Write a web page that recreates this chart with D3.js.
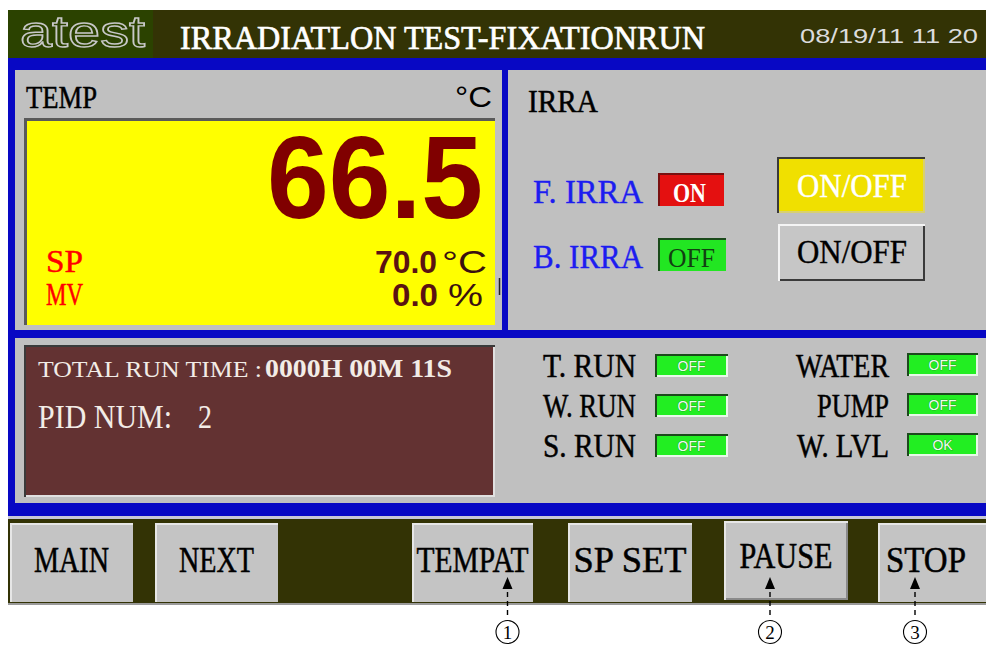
<!DOCTYPE html>
<html>
<head>
<meta charset="utf-8">
<script src="https://cdn.jsdelivr.net/npm/d3@7.9.0/dist/d3.min.js"></script>
<style>
  body { margin: 0; background: #fff; }
  svg { display: block; }
</style>
</head>
<body>
<svg id="hmi" width="986" height="646"></svg>
<script>
// screen contents
const titleText = 'IRRADIATLON TEST-FIXATIONRUN';
const dateText = '08/19/11 11 20';
const tempValues = [66.5, 70.0, 0.0];   // PV, SP, MV
const tempUnits = ['°C', '°C', '%'];
const tempLabels = ['SP', 'MV'];
const irraLabels = ['F. IRRA', 'B. IRRA'];
const irraStates = ['ON', 'OFF'];
const runTime = '0000H 00M 11S';
const pidNum = [2];
const runLabels = ['T. RUN', 'W. RUN', 'S. RUN'];
const runStates = ['OFF', 'OFF', 'OFF'];
const plantLabels = ['WATER', 'PUMP', 'W. LVL'];
const plantStates = ['OFF', 'OFF', 'OK'];
const menuButtons = ['MAIN', 'NEXT', 'TEMPAT', 'SP SET', 'PAUSE', 'STOP'];
const callouts = [['TEMPAT', '1'], ['PAUSE', '2'], ['STOP', '3']];

// layout
const btnX = [10, 155, 412, 568, 724, 878];
const btnW = [123, 123, 121, 124, 124, 108];
const btnTextW = [75, 75, 112, 113, 93, 80];
const calloutDx = [35, -16, -17];

const SERIF = '"Liberation Serif", "DejaVu Serif", serif';
const SANS = '"Liberation Sans", Arial, sans-serif';
const BLUE = '#0808c4';
const PANEL = '#c0c0c0';
const OLIVE = '#333305';

const svg = d3.select('#hmi');

function txt(g, s, x, y, o = {}) {
    let t = g.append('text')
        .attr('x', x).attr('y', y)
        .attr('font-family', o.family || SERIF)
        .attr('font-size', o.size || 28)
        .attr('font-weight', o.weight || 'normal')
        .attr('fill', o.fill || '#000')
        .text(s);
    if (o.len) t.attr('textLength', o.len).attr('lengthAdjust', 'spacingAndGlyphs');
    if (o.stroke) t.attr('stroke', o.stroke).attr('stroke-width', o.sw || 0.5);
    return t;
}

function bevel(g, x, y, w, h, fill, tl, br, sw = 2) {
    g.append('rect').attr('x', x).attr('y', y).attr('width', w).attr('height', h).attr('fill', fill);
    g.append('path')
        .attr('d', `M${x + sw / 2},${y + h} V${y + sw / 2} H${x + w}`)
        .attr('fill', 'none').attr('stroke', tl).attr('stroke-width', sw);
    if (br) {
        g.append('path')
            .attr('d', `M${x + w - sw / 2},${y + sw} V${y + h - sw / 2} H${x + sw}`)
            .attr('fill', 'none').attr('stroke', br).attr('stroke-width', sw);
    }
}

// ---------- header ----------
const header = svg.append('g');
header.append('rect').attr('x', 8).attr('y', 10).attr('width', 978).attr('height', 48).attr('fill', OLIVE);
header.append('rect').attr('x', 8).attr('y', 10).attr('width', 145).attr('height', 48).attr('fill', '#2b4200');
txt(header, 'atest', 20, 47, { family: SANS, size: 44, fill: 'none', stroke: '#c8c8c8', sw: 1.4, len: 125 });
txt(header, titleText, 180, 49, { size: 34, fill: '#fff', stroke: '#fff', sw: 0.7, len: 525 });
txt(header, dateText, 800, 43, { family: SANS, size: 21, fill: '#dcdcdc', len: 178 });

// ---------- blue frame + panels ----------
svg.append('rect').attr('x', 8).attr('y', 58).attr('width', 978).attr('height', 460).attr('fill', BLUE);
svg.append('rect').attr('x', 8).attr('y', 516).attr('width', 978).attr('height', 3).attr('fill', '#c8c8d8');

const panels = svg.append('g');
panels.append('rect').attr('x', 15).attr('y', 70).attr('width', 487).attr('height', 260).attr('fill', PANEL);
panels.append('rect').attr('x', 508).attr('y', 70).attr('width', 478).attr('height', 260).attr('fill', PANEL);
panels.append('rect').attr('x', 15).attr('y', 338).attr('width', 971).attr('height', 165).attr('fill', PANEL);

// ---------- TEMP panel ----------
const temp = svg.append('g');
txt(temp, 'TEMP', 26, 108, { size: 31, stroke: '#000', sw: 0.5, len: 71 });
txt(temp, tempUnits[0], 455, 107, { family: SANS, size: 30, len: 37 });
bevel(temp, 24, 118, 471, 207, '#ffff00', '#5a5a5a', null, 3);
txt(temp, tempValues[0].toFixed(1), 267, 218, { family: SANS, size: 116, weight: 'bold', fill: '#800000', len: 216 });

const tempRow = d3.scaleLinear().domain([0, 1]).range([273, 306]);
tempLabels.forEach((lab, i) => {
    txt(temp, lab, 46, tempRow(i) - 1, { size: 32, fill: '#ff0000', stroke: '#ff0000', sw: 0.5, len: 37 });
});
txt(temp, tempValues[1].toFixed(1), 375, tempRow(0), { family: SANS, size: 31, weight: 'bold', fill: '#5a1212', len: 62 });
txt(temp, tempUnits[1], 442, tempRow(0), { family: SANS, size: 31, fill: '#3a1010', len: 45 });
txt(temp, tempValues[2].toFixed(1), 392, tempRow(1), { family: SANS, size: 31, weight: 'bold', fill: '#5a1212', len: 46 });
txt(temp, tempUnits[2], 448, tempRow(1), { family: SANS, size: 31, fill: '#3a1010', len: 35 });
temp.append('line').attr('x1', 499.5).attr('x2', 499.5).attr('y1', 278).attr('y2', 295).attr('stroke', '#222').attr('stroke-width', 1.5);

// ---------- IRRA panel ----------
const irra = svg.append('g');
txt(irra, 'IRRA', 528, 112, { size: 31, stroke: '#000', sw: 0.5, len: 70 });
const irraRow = d3.scaleLinear().domain([0, 1]).range([203, 268]);
irraLabels.forEach((lab, i) => {
    let y = irraRow(i);
    txt(irra, lab, 533, y, { size: 34, fill: '#1c1cf0', stroke: '#1c1cf0', sw: 0.4, len: 110 });
    let on = irraStates[i] === 'ON';
    bevel(irra, 658, y - 30, on ? 66 : 68, 33, on ? '#e41010' : '#22e622', on ? '#7a1010' : '#1a4a1a', null, 2);
    txt(irra, irraStates[i], on ? 673 : 668, y - 1, {
        size: 27, fill: on ? '#fff' : '#124012', weight: on ? 'bold' : 'normal', len: on ? 33 : 47
    });
});
// ON/OFF buttons
bevel(irra, 777, 157, 148, 56, '#f0e000', '#3a3a3a', '#d8d070', 2);
txt(irra, 'ON/OFF', 797, 197, { size: 33, fill: '#fff', stroke: '#fff', sw: 0.4, len: 110 });
bevel(irra, 778, 224, 147, 57, '#c6c6c6', '#f4f4f4', '#3a3a3a', 2);
txt(irra, 'ON/OFF', 797, 263, { size: 33, fill: '#000', stroke: '#000', sw: 0.4, len: 110 });

// ---------- run info ----------
const info = svg.append('g');
bevel(info, 24, 345, 471, 152, '#633232', '#3a3a3a', '#e0e0e0', 2);
txt(info, 'TOTAL RUN TIME :', 38, 377, { size: 24, fill: '#f2ece6', len: 224 });
txt(info, runTime, 265, 377, { size: 25, fill: '#f2ece6', weight: 'bold', len: 187 });
txt(info, 'PID NUM:', 38, 428, { size: 34, fill: '#f2ece6', len: 134 });
txt(info, String(pidNum[0]), 198, 428, { size: 34, fill: '#f2ece6', len: 14 });

// ---------- status lamps ----------
const lamps = svg.append('g');
const lampRow = d3.scaleLinear().domain([0, 2]).range([377, 457]);

function lamp(x, y, w, state) {
    bevel(lamps, x, y - 23, w, 23, '#22ee22', '#1c4a1c', '#e8f8e8', 2);
    lamps.append('text')
        .attr('x', x + w / 2).attr('y', y - 6)
        .attr('text-anchor', 'middle')
        .attr('font-family', SANS).attr('font-size', 14)
        .attr('fill', '#f0fff0').attr('stroke', '#167016').attr('stroke-width', 0.6)
        .attr('paint-order', 'stroke')
        .text(state);
}

runLabels.forEach((lab, i) => {
    let y = lampRow(i);
    txt(lamps, lab, 543, y, { size: 33, stroke: '#000', sw: 0.5, len: 93 });
    lamp(655, y, 73, runStates[i]);
});
const plantW = [93, 72, 92];
plantLabels.forEach((lab, i) => {
    let y = lampRow(i);
    txt(lamps, lab, 889 - plantW[i], y, { size: 33, stroke: '#000', sw: 0.5, len: plantW[i] });
    lamp(907, y - 1, 71, plantStates[i]);
});

// ---------- menu bar ----------
const menu = svg.append('g');
menu.append('rect').attr('x', 8).attr('y', 519).attr('width', 978).attr('height', 84).attr('fill', OLIVE);
menu.append('rect').attr('x', 8).attr('y', 603).attr('width', 978).attr('height', 2).attr('fill', '#9a9a9a');

menuButtons.forEach((lab, i) => {
    let pressed = lab === 'PAUSE';
    let y = pressed ? 521 : 523;
    bevel(menu, btnX[i], y, btnW[i], 79, '#c4c4c4', '#e6e6e6', pressed ? '#8a8a8a' : null, 2);
    let cx = btnX[i] + btnW[i] / 2;
    txt(menu, lab, cx - btnTextW[i] / 2 + (lab === 'STOP' ? -6 : 0), pressed ? 568 : 572,
        { size: 36, stroke: '#000', sw: 0.5, len: btnTextW[i] });
});

// ---------- callouts ----------
const notes = svg.append('g');
callouts.forEach(([lab, num], k) => {
    let i = menuButtons.indexOf(lab);
    let x = btnX[i] + btnW[i] / 2 + calloutDx[k];
    notes.append('path')
        .attr('d', `M${x},577 L${x - 5},589 L${x + 5},589 Z`)
        .attr('fill', '#000');
    notes.append('line')
        .attr('x1', x).attr('x2', x).attr('y1', 592).attr('y2', 618)
        .attr('stroke', '#000').attr('stroke-width', 1.4).attr('stroke-dasharray', '5,4');
    notes.append('circle').attr('cx', x).attr('cy', 632).attr('r', 11.5)
        .attr('fill', 'none').attr('stroke', '#000').attr('stroke-width', 1.1);
    notes.append('text')
        .attr('x', x).attr('y', 639)
        .attr('text-anchor', 'middle')
        .attr('font-family', SERIF).attr('font-size', 19)
        .text(num);
});
</script>
</body>
</html>
